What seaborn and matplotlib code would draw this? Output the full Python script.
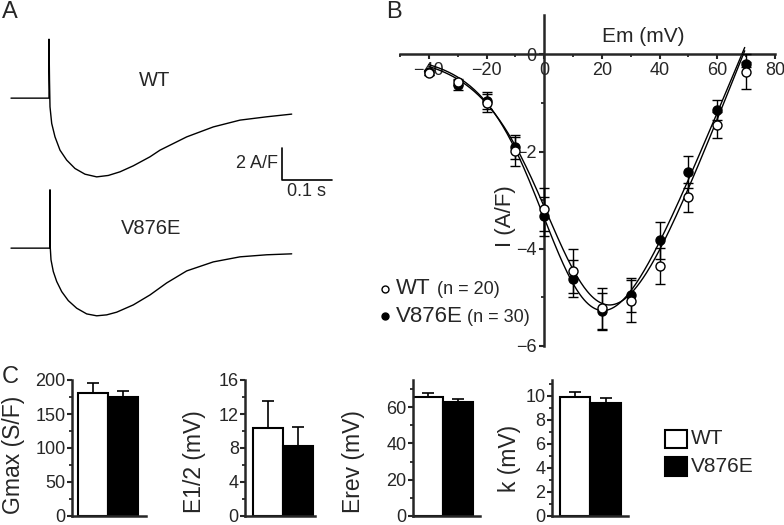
import numpy as np
import matplotlib
matplotlib.use("Agg")
import matplotlib.pyplot as plt
from matplotlib.ticker import MultipleLocator
from matplotlib.patches import Rectangle
import seaborn as sns

# Panel A: current traces (time in s, current in A/F)
wt_t = [-0.076, 0.0, 0.0, 0.001, 0.002, 0.0054, 0.012, 0.022, 0.0354, 0.052,
        0.072, 0.0954, 0.1186, 0.142, 0.1686, 0.202, 0.222, 0.2754, 0.3286,
        0.382, 0.4354, 0.4854]
wt_i = [0.0, 0.0, 3.73, 1.14, -0.55, -1.60, -2.45, -3.29, -3.92, -4.45,
        -4.81, -4.98, -4.89, -4.66, -4.28, -3.71, -3.29, -2.45, -1.82,
        -1.39, -1.18, -1.01]
mut_t = [-0.076, 0.002, 0.002, 0.0026, 0.004, 0.0086, 0.0154, 0.0254, 0.0386,
         0.0554, 0.0754, 0.0954, 0.1154, 0.1354, 0.1686, 0.202, 0.2354, 0.2754,
         0.3286, 0.382, 0.4354, 0.4854]
mut_i = [0.0, 0.0, 3.69, 0.0, -0.74, -1.48, -2.11, -2.75, -3.32,
         -3.80, -4.16, -4.28, -4.22, -4.05, -3.59, -2.96, -2.20, -1.44,
         -0.87, -0.55, -0.42, -0.36]

# Panel B: I-V relation (mean, SEM)
em_mv = [-40, -30, -20, -10, 0, 10, 20, 30, 40, 50, 60, 70]
wt_iv = [-0.38, -0.56, -1.0, -1.99, -3.19, -4.45, -5.22, -5.07, -4.35, -2.94, -1.46, -0.36]
wt_sem = [0.05, 0.06, 0.18, 0.3, 0.45, 0.45, 0.42, 0.43, 0.37, 0.3, 0.27, 0.36]
mut_iv = [-0.37, -0.63, -0.95, -1.9, -3.33, -4.62, -5.29, -4.95, -3.82, -2.42, -1.14, -0.2]
mut_sem = [0.05, 0.1, 0.18, 0.25, 0.4, 0.38, 0.38, 0.35, 0.38, 0.33, 0.21, 0.05]

# Boltzmann fit parameters: Gmax (A/F/mV), Erev, E1/2, k
wt_fit = [0.150, 69.0, 10.0, 12.0]
mut_fit = [0.142, 68.5, 7.0, 11.0]

# Panel C: fitted parameters (mean, SEM)
groups = ["WT", "V876E"]
gmax_mean = [181, 175]
gmax_sem = [14, 9]
e12_mean = [10.35, 8.25]
e12_sem = [3.15, 2.25]
erev_mean = [65.8, 62.9]
erev_sem = [2.2, 1.8]
k_mean = [9.95, 9.45]
k_sem = [0.4, 0.4]

sns.set_theme(style="ticks")
plt.rcParams["font.family"] = ["Liberation Sans", "DejaVu Sans"]

W, H = 784, 525
fig = plt.figure(figsize=(W / 100, H / 100), dpi=100)


def px_axes(x0, y0, x1, y1):
    return fig.add_axes([x0 / W, 1 - y1 / H, (x1 - x0) / W, (y1 - y0) / H])


# ---------- Panel A ----------
ax_a1 = px_axes(0, 30, 340, 190)
ax_a2 = px_axes(0, 180, 340, 340)
for ax, t, cur in [(ax_a1, wt_t, wt_i), (ax_a2, mut_t, mut_i)]:
    ax.plot(t, cur, color="black", lw=1.0, solid_joinstyle="round")
    ax.set_xlim(-0.098, 0.582)
    ax.set_ylim(-5.81, 4.31)
    ax.set_axis_off()

# ---------- Panel B ----------
ax_b = px_axes(400, 15, 775, 346)
v = np.linspace(-40, 69.5, 300)
for params, iv, sem in [(wt_fit, wt_iv, wt_sem), (mut_fit, mut_iv, mut_sem)]:
    g, erev, eh, k = params
    fit = g * (v - erev) / (1 + np.exp((eh - v) / k))
    sns.lineplot(x=v, y=fit, color="black", lw=1.0, ax=ax_b)
    ax_b.errorbar(em_mv, iv, yerr=sem, fmt="none", ecolor="black",
                  elinewidth=1.0, capsize=3.5, capthick=1.0, zorder=3)
for iv, face in [(mut_iv, "black"), (wt_iv, "white")]:
    ax_b.plot(em_mv, iv, "o", ms=6.5, mfc=face, mec="black", mew=1.0, zorder=4)

ax_b.set_xlim(-50, 80)
ax_b.set_ylim(-6, 0.81)
ax_b.spines["left"].set_position(("data", 0))
ax_b.spines["bottom"].set_position(("data", 0))
ax_b.spines["right"].set_visible(False)
ax_b.spines["top"].set_visible(False)
for s in ["left", "bottom"]:
    ax_b.spines[s].set_linewidth(1.8)
ax_b.set_xticks([-40, -20, 0, 20, 40, 60, 80])
ax_b.xaxis.set_minor_locator(MultipleLocator(10))
ax_b.set_yticks([0, -2, -4, -6])
ax_b.yaxis.set_minor_locator(MultipleLocator(1))
ax_b.tick_params(axis="both", which="major", length=3.5, width=1.5,
                 labelsize=13, pad=2)
ax_b.tick_params(axis="both", which="minor", length=2.5, width=1.3)
ax_b.set_xlabel("")
ax_b.set_ylabel("")
ax_b.patch.set_visible(False)

# ---------- Panel C ----------
c_top, c_bot = 380, 516
bar_panels = [
    (gmax_mean, gmax_sem, (72, 146), (0, 200), (-0.69, 1.76), 50, 25),
    (e12_mean, e12_sem, (245, 315), (0, 16), (-0.75, 1.56), 4, 2),
    (erev_mean, erev_sem, (412.7, 480), (0, 75), (-0.52, 1.72), 20, 10),
    (k_mean, k_sem, (551.7, 628.3), (0, 11.33), (-0.77, 1.75), 2, 1),
]
for mean, sem, (x0, x1), ylim, xlim, major, minor in bar_panels:
    ax = px_axes(x0, c_top, x1, c_bot)
    sns.barplot(x=groups, y=mean, hue=groups, palette=["white", "black"],
                edgecolor="black", linewidth=1.5, width=1.0, errorbar=None,
                legend=False, ax=ax)
    ax.errorbar([0, 1], mean, yerr=[[0, 0], sem], fmt="none", ecolor="black",
                elinewidth=1.2, capsize=4, capthick=1.2, zorder=3)
    ax.set_xlim(*xlim)
    ax.set_ylim(*ylim)
    ax.yaxis.set_major_locator(MultipleLocator(major))
    ax.yaxis.set_minor_locator(MultipleLocator(minor))
    ax.set_xticks([])
    ax.set_xlabel("")
    ax.set_ylabel("")
    sns.despine(ax=ax)
    for s in ["left", "bottom"]:
        ax.spines[s].set_linewidth(1.8)
    ax.tick_params(axis="y", which="major", length=3.5, width=1.5,
                   labelsize=13, pad=1)
    ax.tick_params(axis="y", which="minor", length=2.5, width=1.3)
    ax.patch.set_visible(False)

# ---------- overlay for labels / annotations (pixel coordinates) ----------
ov = fig.add_axes([0, 0, 1, 1])
ov.set_xlim(0, W)
ov.set_ylim(H, 0)
ov.set_axis_off()

for letter, x, y in [("A", 2, 12), ("B", 386, 12), ("C", 2, 377)]:
    ov.text(x, y, letter, fontsize=17, ha="left", va="center")

# panel A labels and scale bar
ov.text(155, 80, "WT", fontsize=14.5, ha="center", va="center")
ov.text(151, 229, "V876E", fontsize=14.5, ha="center", va="center")
ov.plot([281.7, 281.7, 331.7], [148.3, 180, 180], color="black", lw=1.2)
ov.text(278, 164, "2 A/F", fontsize=13, ha="right", va="center")
ov.text(306.7, 192, "0.1 s", fontsize=13, ha="center", va="center")

# panel B labels and legend
ov.text(643, 37, "Em (mV)", fontsize=15, ha="center", va="center")
ov.text(505, 216, "I (A/F)", fontsize=16, ha="center", va="center", rotation=90)
ov.plot([385], [289], "o", ms=5, mfc="white", mec="black", mew=1.0)
ov.plot([385], [316], "o", ms=5, mfc="black", mec="black", mew=1.0)
ov.text(396, 289, "WT", fontsize=16, ha="left", va="center")
ov.text(437, 290, "(n = 20)", fontsize=13, ha="left", va="center")
ov.text(396, 316, "V876E", fontsize=16, ha="left", va="center")
ov.text(467, 317, "(n = 30)", fontsize=13, ha="left", va="center")

# panel C y labels
for txt, x, y in [("Gmax (S/F)", 14, 455), ("E1/2 (mV)", 195, 462),
                  ("Erev (mV)", 354, 462), ("k (mV)", 510, 458)]:
    ov.text(x, y, txt, fontsize=16.5, ha="center", va="center", rotation=90)

# panel C legend
ov.add_patch(Rectangle((665, 430), 21.7, 18.3, facecolor="white",
                       edgecolor="black", lw=1.5))
ov.add_patch(Rectangle((665, 457.3), 21.7, 18.7, facecolor="black",
                       edgecolor="black", lw=1.5))
ov.text(691, 439, "WT", fontsize=15, ha="left", va="center")
ov.text(691, 467, "V876E", fontsize=15, ha="left", va="center")

fig.savefig("out.png", dpi=100)
